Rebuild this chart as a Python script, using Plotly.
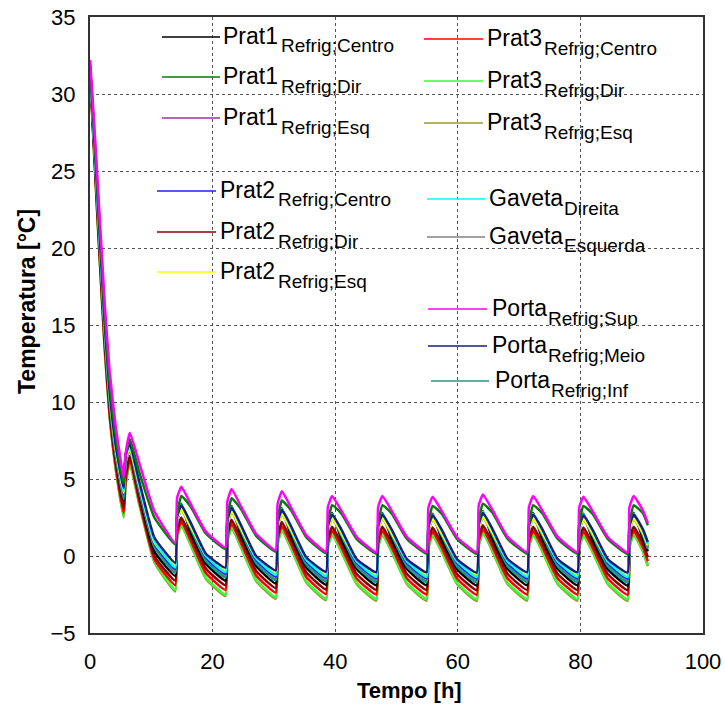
import plotly.graph_objects as go

# ---------------- data ----------------
time_h = [0, 0.6, 1.2, 1.8, 2.4, 3.2, 4.2, 5.5, 5.8, 6.5, 8.0, 10.5,
          13.9, 14.2, 14.9, 16.4, 18.9,
          22.1, 22.4, 23.1, 24.6, 27.1,
          30.3, 30.6, 31.3, 32.8, 35.3,
          38.5, 38.8, 39.5, 41.0, 43.5,
          46.7, 47.0, 47.7, 49.2, 51.7,
          54.9, 55.2, 55.9, 57.4, 59.9,
          63.1, 63.4, 64.1, 65.6, 68.1,
          71.3, 71.6, 72.3, 73.8, 76.3,
          79.5, 79.8, 80.5, 82.0, 84.5,
          87.7, 88.0, 88.7, 90.2, 91.0]

prat1_centro = [31.7, 27.2, 22.8, 18.5, 14.3, 9.9, 6.4, 3.6, 6.4, 7.4, 4.2, 0.3,
                -1.3, 2.5, 3.4, 1.55, -0.5,
                -1.6, 2.25, 3.25, 1.4, -0.65,
                -1.78, 2.1, 3.1, 1.3, -0.75,
                -1.87, 1.9, 2.8, 1.1, -0.85,
                -1.9, 1.9, 2.8, 1.1, -0.85,
                -1.9, 1.86, 2.75, 1.06, -0.87,
                -1.92, 1.98, 2.9, 1.17, -0.83,
                -1.9, 1.9, 2.8, 1.1, -0.85,
                -1.9, 1.86, 2.75, 1.06, -0.87,
                -1.92, 1.9, 2.8, 1.1, 0.3]

prat1_dir = [32.0, 28.2, 24.1, 19.9, 15.7, 11.3, 7.8, 4.7, 6.4, 7.6, 5.5, 2.5,
             0.75, 2.67, 3.9, 3.22, 1.46,
             0.45, 2.42, 3.75, 3.07, 1.31,
             0.27, 2.27, 3.6, 2.97, 1.21,
             0.18, 2.07, 3.3, 2.77, 1.11,
             0.15, 2.07, 3.3, 2.77, 1.11,
             0.15, 2.03, 3.25, 2.73, 1.09,
             0.13, 2.15, 3.4, 2.84, 1.13,
             0.15, 2.07, 3.3, 2.77, 1.11,
             0.15, 2.03, 3.25, 2.73, 1.09,
             0.13, 2.07, 3.3, 2.77, 2.0]

prat1_esq = [31.8, 27.4, 23.1, 18.8, 14.6, 10.2, 6.7, 3.9, 6.2, 7.0, 4.4, 0.7,
             -1.0, 2.32, 3.15, 1.92, -0.21,
             -1.3, 2.07, 3.0, 1.77, -0.36,
             -1.48, 1.92, 2.85, 1.67, -0.46,
             -1.57, 1.72, 2.55, 1.47, -0.56,
             -1.6, 1.72, 2.55, 1.47, -0.56,
             -1.6, 1.68, 2.5, 1.43, -0.58,
             -1.62, 1.8, 2.65, 1.54, -0.54,
             -1.6, 1.72, 2.55, 1.47, -0.56,
             -1.6, 1.68, 2.5, 1.43, -0.58,
             -1.62, 1.72, 2.55, 1.47, 0.56]

prat2_centro = [31.8, 27.5, 23.2, 18.9, 14.7, 10.3, 6.8, 4.0, 6.3, 7.1, 4.5, 0.8,
                -0.85, 2.39, 3.2, 2.0, -0.09,
                -1.15, 2.14, 3.05, 1.85, -0.24,
                -1.33, 1.99, 2.9, 1.75, -0.34,
                -1.42, 1.79, 2.6, 1.55, -0.44,
                -1.45, 1.79, 2.6, 1.55, -0.44,
                -1.45, 1.75, 2.55, 1.51, -0.46,
                -1.47, 1.87, 2.7, 1.62, -0.42,
                -1.45, 1.79, 2.6, 1.55, -0.44,
                -1.45, 1.75, 2.55, 1.51, -0.46,
                -1.47, 1.79, 2.6, 1.55, 0.66]

prat2_dir = [31.6, 27.0, 22.5, 18.1, 13.9, 9.5, 6.1, 3.1, 5.2, 6.5, 3.8, 0.0,
             -1.6, 1.68, 2.5, 1.28, -0.82,
             -1.9, 1.43, 2.35, 1.13, -0.97,
             -2.08, 1.28, 2.2, 1.03, -1.07,
             -2.17, 1.08, 1.9, 0.83, -1.17,
             -2.2, 1.08, 1.9, 0.83, -1.17,
             -2.2, 1.04, 1.85, 0.79, -1.19,
             -2.22, 1.16, 2.0, 0.9, -1.15,
             -2.2, 1.08, 1.9, 0.83, -1.17,
             -2.2, 1.04, 1.85, 0.79, -1.19,
             -2.22, 1.08, 1.9, 0.83, -0.07]

prat2_esq = [31.8, 27.6, 23.3, 19.0, 14.8, 10.4, 6.9, 4.1, 6.3, 7.0, 4.6, 0.9,
             -0.65, 2.31, 3.05, 1.94, 0.03,
             -0.95, 2.06, 2.9, 1.79, -0.12,
             -1.13, 1.91, 2.75, 1.69, -0.22,
             -1.22, 1.71, 2.45, 1.49, -0.32,
             -1.25, 1.71, 2.45, 1.49, -0.32,
             -1.25, 1.67, 2.4, 1.45, -0.34,
             -1.27, 1.79, 2.55, 1.56, -0.3,
             -1.25, 1.71, 2.45, 1.49, -0.32,
             -1.25, 1.67, 2.4, 1.45, -0.34,
             -1.27, 1.71, 2.45, 1.49, 0.67]

prat3_centro = [31.5, 26.8, 22.2, 17.8, 13.6, 9.2, 5.8, 2.8, 4.9, 6.3, 3.6, -0.2,
                -1.9, 1.42, 2.25, 1.02, -1.11,
                -2.2, 1.17, 2.1, 0.87, -1.26,
                -2.38, 1.02, 1.95, 0.77, -1.36,
                -2.47, 0.82, 1.65, 0.57, -1.46,
                -2.5, 0.82, 1.65, 0.57, -1.46,
                -2.5, 0.78, 1.6, 0.53, -1.48,
                -2.52, 0.9, 1.75, 0.64, -1.44,
                -2.5, 0.82, 1.65, 0.57, -1.46,
                -2.5, 0.78, 1.6, 0.53, -1.48,
                -2.52, 0.82, 1.65, 0.57, -0.34]

prat3_dir = [31.5, 26.7, 22.1, 17.7, 13.5, 9.1, 5.7, 2.6, 4.7, 6.1, 3.5, -0.3,
             -2.2, 1.2, 2.05, 0.8, -1.39,
             -2.5, 0.95, 1.9, 0.65, -1.54,
             -2.68, 0.8, 1.75, 0.55, -1.64,
             -2.77, 0.6, 1.45, 0.35, -1.74,
             -2.8, 0.6, 1.45, 0.35, -1.74,
             -2.8, 0.56, 1.4, 0.31, -1.76,
             -2.82, 0.68, 1.55, 0.42, -1.72,
             -2.8, 0.6, 1.45, 0.35, -1.74,
             -2.8, 0.56, 1.4, 0.31, -1.76,
             -2.82, 0.6, 1.45, 0.35, -0.59]

prat3_esq = [31.4, 26.6, 22.0, 17.6, 13.4, 9.0, 5.6, 2.5, 4.6, 6.0, 3.4, -0.4,
             -2.3, 1.14, 2.0, 0.73, -1.47,
             -2.6, 0.89, 1.85, 0.58, -1.62,
             -2.78, 0.74, 1.7, 0.48, -1.72,
             -2.87, 0.54, 1.4, 0.28, -1.82,
             -2.9, 0.54, 1.4, 0.28, -1.82,
             -2.9, 0.5, 1.35, 0.24, -1.84,
             -2.92, 0.62, 1.5, 0.35, -1.8,
             -2.9, 0.54, 1.4, 0.28, -1.82,
             -2.9, 0.5, 1.35, 0.24, -1.84,
             -2.92, 0.54, 1.4, 0.28, -0.66]

gaveta_direita = [31.9, 27.7, 23.5, 19.2, 15.0, 10.6, 7.1, 4.2, 6.5, 7.2, 4.7, 1.0,
                  -0.75, 2.53, 3.35, 2.13, 0.03,
                  -1.05, 2.28, 3.2, 1.98, -0.12,
                  -1.23, 2.13, 3.05, 1.88, -0.22,
                  -1.32, 1.93, 2.75, 1.68, -0.32,
                  -1.35, 1.93, 2.75, 1.68, -0.32,
                  -1.35, 1.89, 2.7, 1.64, -0.34,
                  -1.37, 2.01, 2.85, 1.75, -0.3,
                  -1.35, 1.93, 2.75, 1.68, -0.32,
                  -1.35, 1.89, 2.7, 1.64, -0.34,
                  -1.37, 1.93, 2.75, 1.68, 0.78]

gaveta_esquerda = [31.8, 27.5, 23.1, 18.8, 14.6, 10.2, 6.7, 3.9, 6.2, 7.0, 4.4, 0.7,
                   -0.95, 2.29, 3.1, 1.9, -0.19,
                   -1.25, 2.04, 2.95, 1.75, -0.34,
                   -1.43, 1.89, 2.8, 1.65, -0.44,
                   -1.52, 1.69, 2.5, 1.45, -0.54,
                   -1.55, 1.69, 2.5, 1.45, -0.54,
                   -1.55, 1.65, 2.45, 1.41, -0.56,
                   -1.57, 1.77, 2.6, 1.52, -0.52,
                   -1.55, 1.69, 2.5, 1.45, -0.54,
                   -1.55, 1.65, 2.45, 1.41, -0.56,
                   -1.57, 1.69, 2.5, 1.45, 0.56]

porta_sup = [32.2, 28.6, 24.6, 20.5, 16.4, 12.0, 8.4, 5.1, 6.6, 8.0, 6.1, 2.9,
             0.85, 3.77, 4.5, 3.4, 1.59,
             0.55, 3.52, 4.35, 3.25, 1.44,
             0.37, 3.37, 4.2, 3.15, 1.34,
             0.28, 3.17, 3.9, 2.95, 1.24,
             0.25, 3.17, 3.9, 2.95, 1.24,
             0.25, 3.13, 3.85, 2.91, 1.22,
             0.23, 3.25, 4.0, 3.02, 1.26,
             0.25, 3.17, 3.9, 2.95, 1.24,
             0.25, 3.13, 3.85, 2.91, 1.22,
             0.23, 3.17, 3.9, 2.95, 2.15]

porta_meio = [31.9, 27.8, 23.6, 19.3, 15.1, 10.7, 7.2, 4.4, 6.6, 7.3, 4.9, 1.2,
              -0.45, 2.55, 3.3, 2.18, 0.15,
              -0.75, 2.3, 3.15, 2.03, 0.0,
              -0.93, 2.15, 3.0, 1.93, -0.1,
              -1.02, 1.95, 2.7, 1.73, -0.2,
              -1.05, 1.95, 2.7, 1.73, -0.2,
              -1.05, 1.91, 2.65, 1.69, -0.22,
              -1.07, 2.03, 2.8, 1.8, -0.18,
              -1.05, 1.95, 2.7, 1.73, -0.2,
              -1.05, 1.91, 2.65, 1.69, -0.22,
              -1.07, 1.95, 2.7, 1.73, 0.9]

porta_inf = [31.7, 27.3, 22.9, 18.6, 14.4, 10.0, 6.5, 3.7, 6.2, 6.9, 4.3, 0.6,
             -1.1, 2.22, 3.05, 1.82, -0.31,
             -1.4, 1.97, 2.9, 1.67, -0.46,
             -1.58, 1.82, 2.75, 1.57, -0.56,
             -1.67, 1.62, 2.45, 1.37, -0.66,
             -1.7, 1.62, 2.45, 1.37, -0.66,
             -1.7, 1.58, 2.4, 1.33, -0.68,
             -1.72, 1.7, 2.55, 1.44, -0.64,
             -1.7, 1.62, 2.45, 1.37, -0.66,
             -1.7, 1.58, 2.4, 1.33, -0.68,
             -1.72, 1.62, 2.45, 1.37, 0.46]

x_ticks = [0, 20, 40, 60, 80, 100]
y_ticks = [-5, 0, 5, 10, 15, 20, 25, 30, 35]

# ---------------- series definitions ----------------
series = [
    # key, main label, subscript, values, colour
    ("p3e", "Prat3", "Refrig;Esq", prat3_esq, "#999933"),
    ("p3d", "Prat3", "Refrig;Dir", prat3_dir, "#33FF33"),
    ("p3c", "Prat3", "Refrig;Centro", prat3_centro, "#FF0000"),
    ("p2d", "Prat2", "Refrig;Dir", prat2_dir, "#8B0000"),
    ("p1c", "Prat1", "Refrig;Centro", prat1_centro, "#000000"),
    ("p1e", "Prat1", "Refrig;Esq", prat1_esq, "#9933A0"),
    ("ge", "Gaveta", "Esquerda", gaveta_esquerda, "#808080"),
    ("pi", "Porta", "Refrig;Inf", porta_inf, "#1F9A8A"),
    ("p2c", "Prat2", "Refrig;Centro", prat2_centro, "#2020FF"),
    ("p2e", "Prat2", "Refrig;Esq", prat2_esq, "#FFFF00"),
    ("gd", "Gaveta", "Direita", gaveta_direita, "#00FFFF"),
    ("pm", "Porta", "Refrig;Meio", porta_meio, "#1A1A80"),
    ("p1d", "Prat1", "Refrig;Dir", prat1_dir, "#008000"),
    ("ps", "Porta", "Refrig;Sup", porta_sup, "#FF00FF"),
]
colour = {k: c for k, _, _, _, c in series}

fig = go.Figure()
for key, main, sub, vals, col in series:
    fig.add_trace(go.Scatter(x=time_h, y=vals, mode="lines",
                             line=dict(color=col, width=2.5, shape="spline", smoothing=0.4),
                             name=main + "_" + sub, showlegend=False, hoverinfo="skip"))

# ---------------- pixel geometry ----------------
W, H = 725, 708
L, R, T, B = 90, 703, 17, 633
PW, PH = R - L, B - T


def px(x):
    return (x - L) / PW


def py(y):
    return (B - y) / PH


FONT = "Arial, Liberation Sans, sans-serif"
shapes = []
annotations = []

# legend: key, line x0, line x1, line y, main-text x, sub-text x
legend_layout = [
    ("p1c", 162, 220, 37, 222, 280),
    ("p1d", 162, 220, 77, 222, 280),
    ("p1e", 162, 220, 118, 222, 280),
    ("p2c", 157, 216, 191, 219, 277),
    ("p2d", 157, 216, 232, 219, 277),
    ("p2e", 157, 216, 272, 219, 277),
    ("p3c", 424, 483, 39, 486, 543),
    ("p3d", 424, 483, 81, 486, 543),
    ("p3e", 424, 483, 123, 486, 543),
    ("gd", 427, 485, 199, 488, 563),
    ("ge", 427, 485, 237, 488, 563),
    ("ps", 428, 487, 309, 491, 547),
    ("pm", 428, 487, 346, 491, 547),
    ("pi", 431, 489, 381, 494, 550),
]
labels = {k: (m, s) for k, m, s, _, _ in series}
for key, x0, x1, ly, tx, sx in legend_layout:
    main, sub = labels[key]
    shapes.append(dict(type="line", xref="paper", yref="paper",
                       x0=px(x0), x1=px(x1), y0=py(ly), y1=py(ly),
                       line=dict(color=colour[key], width=1.6), layer="above"))
    annotations.append(dict(xref="paper", yref="paper", x=px(tx), y=py(ly - 1),
                            xanchor="left", yanchor="middle", showarrow=False, borderpad=0,
                            text=main, font=dict(family=FONT, size=23, color="black")))
    annotations.append(dict(xref="paper", yref="paper", x=px(sx), y=py(ly + 9),
                            xanchor="left", yanchor="middle", showarrow=False, borderpad=0,
                            text=sub, font=dict(family=FONT, size=19, color="black")))

# axis titles
annotations.append(dict(xref="paper", yref="paper", x=px(409), y=py(690),
                        xanchor="center", yanchor="middle", showarrow=False,
                        text="<b>Tempo [h]</b>", font=dict(family=FONT, size=22, color="black")))
annotations.append(dict(xref="paper", yref="paper", x=px(27), y=py(302),
                        xanchor="center", yanchor="middle", showarrow=False, textangle=-90,
                        text="<b>Temperatura [°C]</b>", font=dict(family=FONT, size=23, color="black")))

axis_common = dict(showline=True, linecolor="#333333", linewidth=2, mirror=True,
                   showgrid=True, gridcolor="#555555", gridwidth=1, griddash="dot",
                   zeroline=False, ticks="", automargin=False,
                   tickfont=dict(family=FONT, size=22, color="black"))

fig.update_layout(
    width=W, height=H,
    margin=dict(l=L, r=W - R, t=T, b=H - B),
    paper_bgcolor="white", plot_bgcolor="white",
    xaxis=dict(range=[0, 100], tickvals=x_ticks, ticklabelstandoff=8, **axis_common),
    yaxis=dict(range=[-5, 35], tickvals=y_ticks, ticklabelstandoff=8, **axis_common),
    shapes=shapes, annotations=annotations, showlegend=False,
)

fig.write_html("out.html", config={"displayModeBar": False},
               post_script="document.body.style.margin='0';document.body.style.overflow='hidden';")
